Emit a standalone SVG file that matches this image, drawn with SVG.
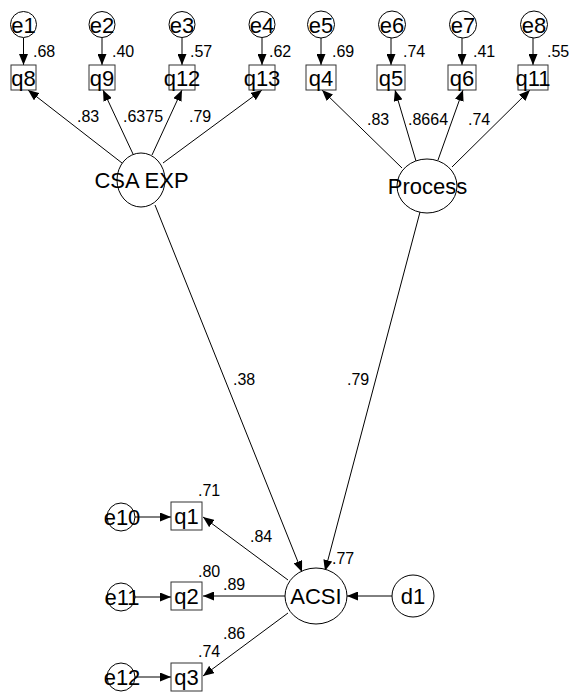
<svg xmlns="http://www.w3.org/2000/svg" width="569" height="692" viewBox="0 0 569 692">
<style>
.shape{fill:#fff;stroke:#000;stroke-width:1}
.box{fill:#fff;stroke:#333;stroke-width:1}
.big{font-family:"Liberation Sans",Arial,sans-serif;font-size:22px;fill:#000;text-anchor:middle}
.lab{font-family:"Liberation Sans",Arial,sans-serif;font-size:16px;fill:#000}
.edge{stroke:#000;stroke-width:1;fill:none;marker-end:url(#ah)}
</style>
<defs>
<marker id="ah" markerUnits="userSpaceOnUse" markerWidth="11" markerHeight="9" refX="11" refY="4.5" orient="auto">
<path d="M0,0 L11,4.5 L0,9 Z" fill="#000"/>
</marker>
</defs>
<rect width="569" height="692" fill="#fff"/>
<g id="connectors">
<line class="edge" x1="23.5" y1="38" x2="23.5" y2="65"/>
<line class="edge" x1="102" y1="38" x2="102" y2="65"/>
<line class="edge" x1="182" y1="38" x2="182" y2="65"/>
<line class="edge" x1="262" y1="38" x2="262" y2="65"/>
<line class="edge" x1="321" y1="38" x2="321" y2="65"/>
<line class="edge" x1="391" y1="38" x2="391" y2="65"/>
<line class="edge" x1="462" y1="38" x2="462" y2="65"/>
<line class="edge" x1="533" y1="38" x2="533" y2="65"/>
<line class="edge" x1="122" y1="163" x2="28" y2="90"/>
<line class="edge" x1="133" y1="154" x2="103" y2="90"/>
<line class="edge" x1="152" y1="155" x2="182" y2="90"/>
<line class="edge" x1="163" y1="163" x2="262" y2="90"/>
<line class="edge" x1="402" y1="168" x2="322" y2="90"/>
<line class="edge" x1="416" y1="161" x2="395" y2="90"/>
<line class="edge" x1="438" y1="160" x2="463" y2="90"/>
<line class="edge" x1="452" y1="167" x2="530" y2="90"/>
<line class="edge" x1="155" y1="205" x2="302" y2="572"/>
<line class="edge" x1="420" y1="212" x2="325" y2="571"/>
<line class="edge" x1="392" y1="596" x2="347" y2="596"/>
<line class="edge" x1="288" y1="580" x2="203" y2="517"/>
<line class="edge" x1="285" y1="596" x2="203" y2="596"/>
<line class="edge" x1="288" y1="613" x2="203" y2="676"/>
<line class="edge" x1="135" y1="517" x2="171" y2="517"/>
<line class="edge" x1="135" y1="597" x2="171" y2="597"/>
<line class="edge" x1="135" y1="677" x2="171" y2="677"/>
</g>
<g id="labels">
<text class="lab" x="33" y="57">.68</text>
<text class="lab" x="112" y="57">.40</text>
<text class="lab" x="190" y="57">.57</text>
<text class="lab" x="269" y="57">.62</text>
<text class="lab" x="332" y="57">.69</text>
<text class="lab" x="403" y="57">.74</text>
<text class="lab" x="473" y="57">.41</text>
<text class="lab" x="547" y="57">.55</text>
<text class="lab" x="77" y="122">.83</text>
<text class="lab" x="123" y="122">.6375</text>
<text class="lab" x="189" y="122">.79</text>
<text class="lab" x="367" y="125">.83</text>
<text class="lab" x="408" y="125">.8664</text>
<text class="lab" x="468" y="125">.74</text>
<text class="lab" x="233" y="385">.38</text>
<text class="lab" x="347" y="385">.79</text>
<text class="lab" x="332" y="564">.77</text>
<text class="lab" x="250" y="542">.84</text>
<text class="lab" x="223" y="590">.89</text>
<text class="lab" x="223" y="639">.86</text>
<text class="lab" x="198" y="496">.71</text>
<text class="lab" x="198" y="577">.80</text>
<text class="lab" x="198" y="657">.74</text>
</g>
<g id="e1"><circle class="shape" cx="23.5" cy="24.5" r="13"/><text class="big" x="23.5" y="32.5">e1</text></g>
<g id="e2"><circle class="shape" cx="102" cy="24.5" r="13"/><text class="big" x="102" y="32.5">e2</text></g>
<g id="e3"><circle class="shape" cx="182" cy="24.5" r="13"/><text class="big" x="182" y="32.5">e3</text></g>
<g id="e4"><circle class="shape" cx="262" cy="24.5" r="13"/><text class="big" x="262" y="32.5">e4</text></g>
<g id="e5"><circle class="shape" cx="321" cy="24.5" r="13.5"/><text class="big" x="321" y="32.5">e5</text></g>
<g id="e6"><circle class="shape" cx="392" cy="24.5" r="13.5"/><text class="big" x="392" y="32.5">e6</text></g>
<g id="e7"><circle class="shape" cx="463" cy="24.5" r="13.5"/><text class="big" x="463" y="32.5">e7</text></g>
<g id="e8"><circle class="shape" cx="534" cy="24.5" r="13.5"/><text class="big" x="534" y="32.5">e8</text></g>
<g id="q8"><rect class="box" x="11" y="65" width="25" height="25"/><text class="big" x="23.5" y="86">q8</text></g>
<g id="q9"><rect class="box" x="89" y="65" width="26" height="25"/><text class="big" x="102" y="86">q9</text></g>
<g id="q12"><rect class="box" x="169" y="65" width="26" height="25"/><text class="big" x="182" y="86">q12</text></g>
<g id="q13"><rect class="box" x="249" y="65" width="26" height="25"/><text class="big" x="262" y="86">q13</text></g>
<g id="q4"><rect class="box" x="306" y="65" width="30" height="25"/><text class="big" x="321" y="86">q4</text></g>
<g id="q5"><rect class="box" x="377" y="65" width="28" height="25"/><text class="big" x="391" y="86">q5</text></g>
<g id="q6"><rect class="box" x="448" y="65" width="28" height="25"/><text class="big" x="462" y="86">q6</text></g>
<g id="q11"><rect class="box" x="518" y="65" width="30" height="25"/><text class="big" x="533" y="86">q11</text></g>
<g id="csa-exp"><ellipse class="shape" cx="141" cy="180" rx="24" ry="27"/><text class="big" x="141.5" y="188">CSA EXP</text></g>
<g id="process"><ellipse class="shape" cx="427" cy="186" rx="30" ry="27"/><text class="big" x="427.5" y="194">Process</text></g>
<g id="acsi"><ellipse class="shape" cx="316" cy="596" rx="31" ry="28"/><text class="big" x="316" y="604">ACSI</text></g>
<g id="d1"><circle class="shape" cx="413" cy="596" r="21"/><text class="big" x="413" y="604">d1</text></g>
<g id="q1"><rect class="box" x="171" y="502" width="31" height="28"/><text class="big" x="186.5" y="524">q1</text></g>
<g id="q2"><rect class="box" x="171" y="582" width="31" height="28"/><text class="big" x="186.5" y="604">q2</text></g>
<g id="q3"><rect class="box" x="171" y="663" width="31" height="28"/><text class="big" x="186.5" y="685">q3</text></g>
<g id="e10"><circle class="shape" cx="121" cy="517" r="14"/><text class="big" x="122" y="525">e10</text></g>
<g id="e11"><circle class="shape" cx="121" cy="597" r="14"/><text class="big" x="122" y="605">e11</text></g>
<g id="e12"><circle class="shape" cx="121" cy="677" r="14"/><text class="big" x="122" y="685">e12</text></g>
</svg>
